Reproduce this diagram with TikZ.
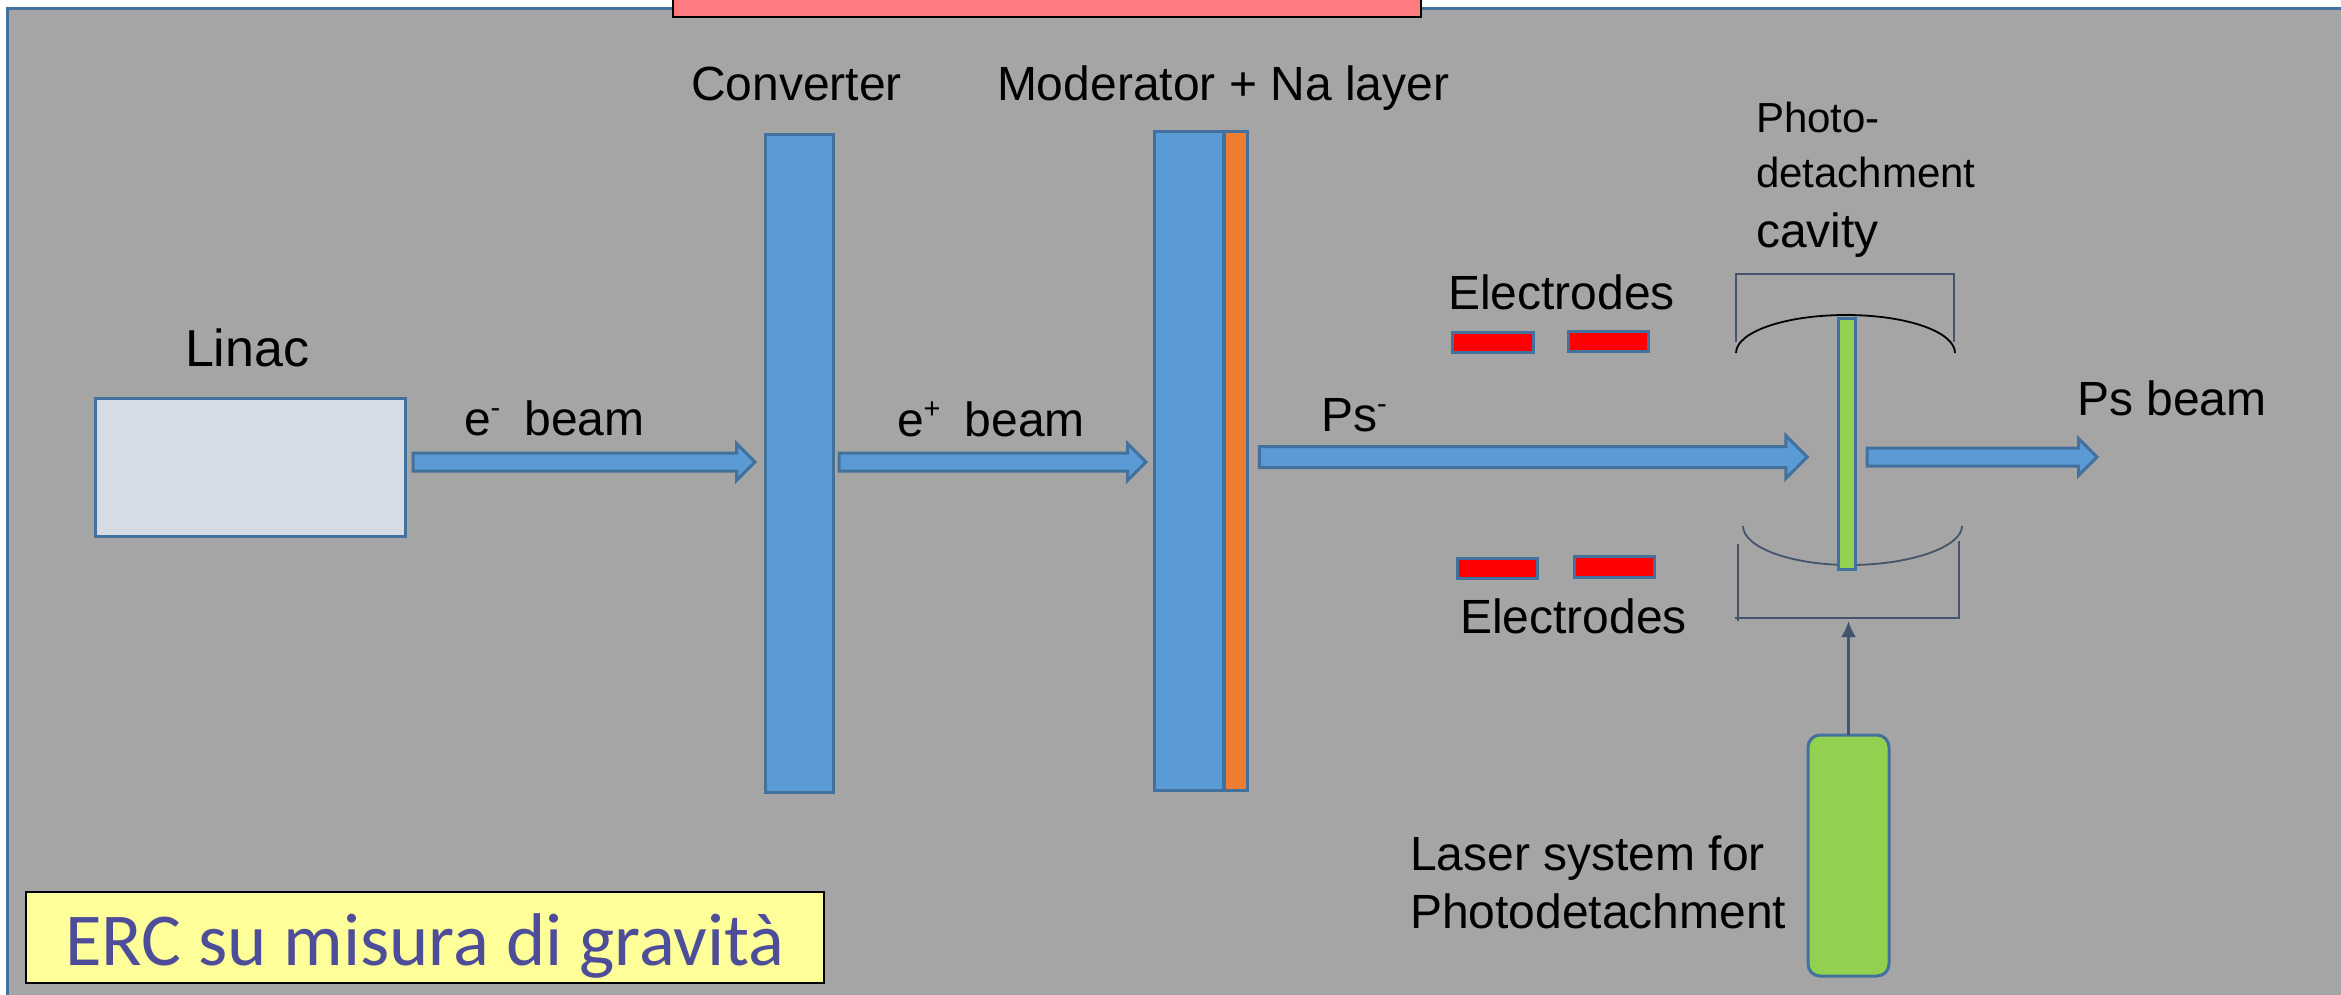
\documentclass[tikz,border=0pt]{standalone}
\usepackage{fontspec}
\setmainfont{Liberation Sans}
\newfontfamily\carlitofont{Carlito}
\usetikzlibrary{shapes.arrows,arrows.meta}
\definecolor{panelgray}{HTML}{A5A5A5}
\definecolor{edgeblue}{HTML}{41719C}
\definecolor{fillblue}{HTML}{5B9BD5}
\definecolor{slate}{HTML}{44546A}
\definecolor{lightbox}{HTML}{D6DCE5}
\definecolor{orangefill}{HTML}{ED7D31}
\definecolor{greenfill}{HTML}{92D050}
\definecolor{pinkfill}{HTML}{FF7C80}
\definecolor{yellowfill}{HTML}{FFFF99}
\definecolor{ercblue}{HTML}{4D4D99}
\newcommand{\boxat}[6]{\node[#1,minimum width={(#5-#3)*1pt},minimum height={(#6-#4)*1pt}] (#2) at ({(#3+#5)/2},{(#4+#6)/2}) {};}
\newcommand{\sizedfont}[1]{\fontsize{#1}{#1}\selectfont}
\newcommand{\supmark}[1]{\raisebox{0.36em}{\sizedfont{29}#1}}
\newcommand{\shaft}[1]{\rule{0pt}{#1pt}}
\tikzset{
  x=1pt,y=-1pt,
  plain/.style={inner sep=0pt,outer sep=0pt},
  panel/.style={plain,draw=edgeblue,line width=3pt,fill=panelgray},
  bluebox/.style={plain,draw=edgeblue,line width=3pt,fill=fillblue},
  linacbox/.style={plain,draw=edgeblue,line width=3pt,fill=lightbox},
  orangebox/.style={plain,draw=edgeblue,line width=3pt,fill=orangefill},
  greenbox/.style={plain,draw=edgeblue,line width=3pt,fill=greenfill},
  electrode/.style={plain,draw=edgeblue,line width=3pt,fill=red},
  pinkbox/.style={plain,draw=black,line width=2pt,fill=pinkfill},
  yellowbox/.style={plain,draw=black,line width=2pt,fill=yellowfill},
  lasernode/.style={greenbox,rounded corners=12pt},
  beam/.style={plain,single arrow,draw=edgeblue,line width=3pt,fill=fillblue,single arrow tip angle=90},
  label/.style={plain,anchor=base west,font=\sizedfont{48}},
  smalllabel/.style={plain,anchor=base west,font=\sizedfont{42}},
  thinline/.style={draw=slate,line width=1.2pt},
  mirror/.style={line width=1.8pt},
  laserbeam/.style={draw=slate,line width=2.6pt,-{Latex[length=16pt,width=15pt]}},
}
\begin{document}
\begin{tikzpicture}
\useasboundingbox (0,0) rectangle (2341,995);
\fill[white] (0,0) rectangle (2341,995);
\boxat{panel}{bg}{7.5}{9}{2360}{1020}
\boxat{pinkbox}{title}{673}{-10}{1421}{17}
\boxat{linacbox}{linac}{95}{398}{405}{536}
\boxat{bluebox}{converter}{765}{135}{833}{792}
\boxat{bluebox}{moderator}{1154}{132}{1223}{790}
\boxat{orangebox}{nalayer}{1224}{132}{1247}{790}
\node[beam,minimum height=342pt,single arrow head extend=9.5pt] (ebeam) at (579.5,462) {\shaft{15}};
\node[beam,minimum height=307pt,single arrow head extend=9.5pt] (pbeam) at (988,462) {\shaft{15}};
\node[beam,minimum height=548pt,single arrow head extend=11pt] (psminus) at (1528,457) {\shaft{18}};
\node[beam,minimum height=230pt,single arrow head extend=9.5pt] (psbeam) at (1977.5,457) {\shaft{15}};
\boxat{electrode}{elA}{1452}{332}{1533}{352}
\boxat{electrode}{elB}{1568}{331}{1648}{351}
\boxat{electrode}{elC}{1457}{558}{1537}{578}
\boxat{electrode}{elD}{1574}{556}{1654}{577}
% cavity brackets and mirrors
\draw[thinline] (1736,342) -- (1736,274) -- (1954,274) -- (1954,342);
\draw[mirror,black] (1736,353) .. controls (1736,332) and (1785,315) .. (1846,315) .. controls (1907,315) and (1955,332) .. (1955,353);
\draw[mirror,slate] (1743,526) .. controls (1743,547) and (1790,565) .. (1850,565) .. controls (1910,565) and (1962,547) .. (1962,526);
\draw[thinline] (1738,544) -- (1738,621);
\draw[thinline] (1735,618) -- (1959,618) -- (1959,541);
\boxat{greenbox}{cavity}{1838}{318}{1855}{569}
\boxat{lasernode}{laser}{1808}{735}{1889}{976}
\coordinate (lasertip) at (laser.north |- 0,621);
\draw[laserbeam] (laser.north) -- (lasertip);
\boxat{yellowbox}{ercbox}{26}{892}{824}{983}
\node[plain,anchor=base,text=ercblue,font=\carlitofont\sizedfont{74.7}] (erc) at (425,965) {ERC su misura di gravità};
\node[label,font=\sizedfont{52}] (tlinac) at (185,366) {Linac};
\node[label] (tconv) at (691,101) {Converter};
\node[label] (tmod) at (997,101) {Moderator + Na layer};
\node[label] (tem) at (464,435) {e\supmark{-}\hspace{0.5em}beam};
\node[label] (tep) at (897,436) {e\supmark{+}\hspace{0.5em}beam};
\node[label] (tps) at (1321,431) {Ps\supmark{-}};
\node[label] (telA) at (1448,309) {Electrodes};
\node[label] (telB) at (1460,633) {Electrodes};
\node[label] (tpsb) at (2077,415) {Ps beam};
\node[smalllabel] (tph1) at (1756,133) {Photo-};
\node[smalllabel] (tph2) at (1756,188) {detachment};
\node[label] (tph3) at (1756,247) {cavity};
\node[label] (tl1) at (1410,870) {Laser system for};
\node[label] (tl2) at (1410,928) {Photodetachment};
\end{tikzpicture}
\end{document}
